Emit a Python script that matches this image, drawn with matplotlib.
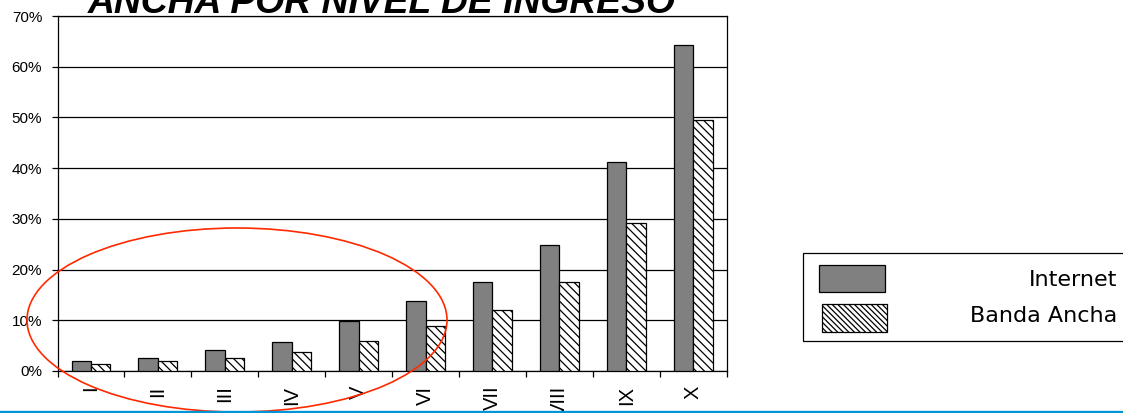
import matplotlib
matplotlib.use("Agg")
import matplotlib.pyplot as plt
from matplotlib.patches import Rectangle, Ellipse
from matplotlib.lines import Line2D
from matplotlib.ticker import FixedLocator, PercentFormatter
import numpy as np

plt.rcParams['font.family'] = ['Liberation Sans', 'DejaVu Sans']
plt.rcParams['hatch.linewidth'] = 0.9

categories = ["I", "II", "III", "IV", "V", "VI", "VII", "VIII", "IX", "X"]
internet = [1.9, 2.5, 4.1, 5.8, 9.9, 13.9, 17.6, 24.8, 41.2, 64.3]
banda_ancha = [1.3, 1.9, 2.5, 3.7, 5.9, 8.8, 12.0, 17.6, 29.2, 49.5]
series_names = ["Internet", "Banda Ancha"]
title = "ANCHA POR NIVEL DE INGRESO"

W, H = 1123, 413
fig = plt.figure(figsize=(W / 100, H / 100), dpi=100)
ax = fig.add_axes([57.5 / W, 1 - 371 / H, (726.7 - 57.5) / W, (371 - 16) / H])

x = np.arange(len(categories))
bw = 0.29
ax.bar(x - bw / 2, internet, bw, color='#808080', edgecolor='black', linewidth=0.9, zorder=3)
ax.bar(x + bw / 2, banda_ancha, bw, color='white', edgecolor='black', linewidth=0.9,
       hatch='\\\\\\\\', zorder=3)

ax.set_xlim(-0.5, len(categories) - 0.5)
ax.set_ylim(0, 70)
ax.set_yticks(np.arange(0, 71, 10))
ax.yaxis.set_major_formatter(PercentFormatter(decimals=0))
ax.yaxis.grid(True, color='black', linewidth=0.9, zorder=0)
ax.set_axisbelow(True)

ax.xaxis.set_major_locator(FixedLocator(np.arange(-0.5, len(categories), 1.0)))
ax.set_xticklabels([])
ax.xaxis.set_minor_locator(FixedLocator(x))
ax.set_xticklabels(categories, minor=True, rotation=90, va='top', fontsize=14.5)
ax.tick_params(axis='x', which='major', direction='out', length=4, width=0.9)
ax.tick_params(axis='x', which='minor', length=0, pad=10.5)
ax.tick_params(axis='y', direction='out', length=4, width=0.9, pad=7, labelsize=11)
for s in ax.spines.values():
    s.set_linewidth(0.9)

fig.text(382 / W, 1 - 13.4 / H, title, ha='center', va='baseline', fontsize=26.8,
         fontweight='bold', fontstyle='italic')

# legend box
fig.patches.append(Rectangle((802.7 / W, 1 - 341 / H), (1140 - 802.7) / W, (341 - 252.7) / H,
                             transform=fig.transFigure, facecolor='white', edgecolor='black',
                             linewidth=0.9, zorder=4))
fig.patches.append(Rectangle((819 / W, 1 - 292 / H), 66 / W, 27 / H, transform=fig.transFigure,
                             facecolor='#808080', edgecolor='black', linewidth=0.9, zorder=5))
fig.patches.append(Rectangle((821.5 / W, 1 - 332 / H), 65.5 / W, 28 / H, transform=fig.transFigure,
                             facecolor='white', edgecolor='black', linewidth=0.9,
                             hatch='\\\\\\\\\\\\', zorder=5))
fig.text(1117 / W, 1 - 280 / H, series_names[0], ha='right', va='center', fontsize=16,
         family=['DejaVu Sans'], zorder=6)
fig.text(1117 / W, 1 - 316 / H, series_names[1], ha='right', va='center', fontsize=16,
         family=['DejaVu Sans'], zorder=6)

# red ellipse
fig.patches.append(Ellipse((237 / W, 1 - 320 / H), 420 / W, 184 / H, transform=fig.transFigure,
                           fill=False, edgecolor='#ff2a00', linewidth=1.2, zorder=10))

# blue bottom line
fig.lines.append(Line2D([0, 1], [1.5 / H, 1.5 / H], transform=fig.transFigure,
                        color='#0096d6', linewidth=2.4, zorder=11))

fig.savefig('out.png', dpi=100)
